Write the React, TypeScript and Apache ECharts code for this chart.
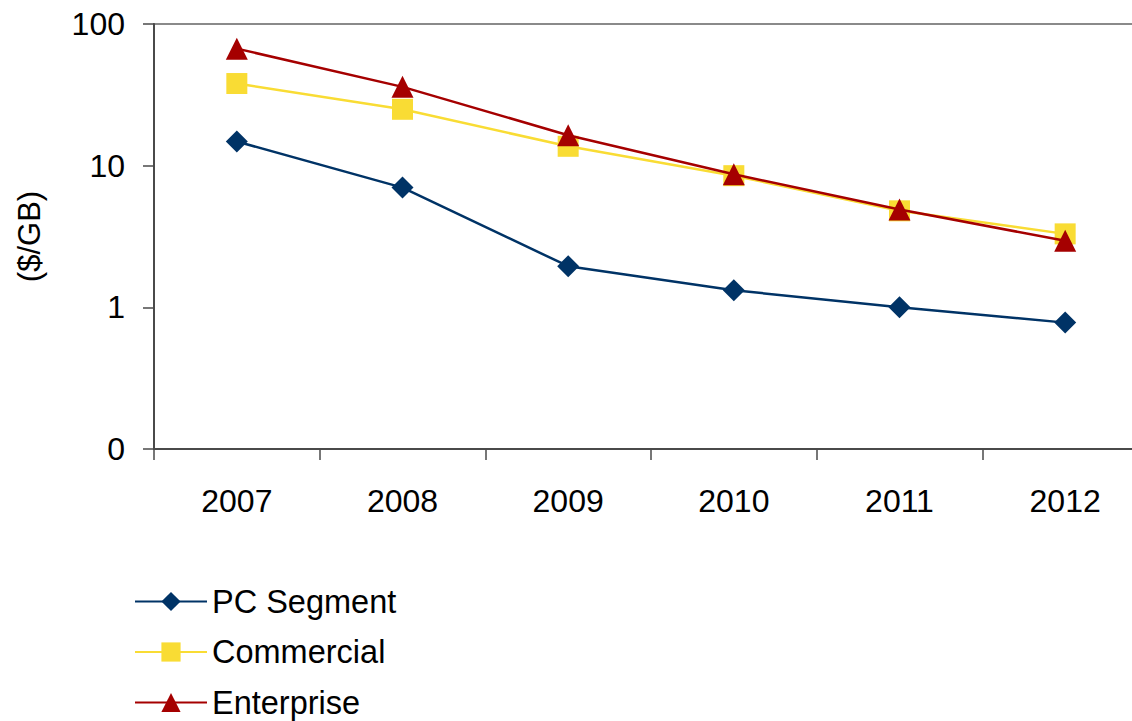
import React, { useEffect, useRef } from "react";
import * as echarts from "echarts";

const years = ["2007", "2008", "2009", "2010", "2011", "2012"];
const pcSegment = [14.8, 7.0, 1.95, 1.32, 1.0, 0.78];
const commercial = [38, 25, 13.7, 8.5, 4.8, 3.3];
const enterprise = [67, 36, 16.4, 8.7, 4.9, 2.95];

const FONT = "'Liberation Sans', Arial, sans-serif";

export default function App() {
  const ref = useRef<HTMLDivElement>(null);
  useEffect(() => {
    if (!ref.current) return;
    const chart = echarts.init(ref.current, null, { renderer: "svg" });
    chart.setOption({
      animation: false,
      backgroundColor: "#ffffff",
      textStyle: { fontFamily: FONT },
      grid: {
        left: 154,
        right: 0,
        top: 24,
        height: 425,
        show: true,
        borderColor: "#8a8a8a",
        borderWidth: 2,
      },
      legend: {
        orient: "vertical",
        left: 134,
        top: 585,
        padding: 0,
        itemWidth: 72,
        itemHeight: 24,
        itemGap: 17.5,
        textStyle: { fontSize: 32.5, color: "#000", fontFamily: FONT },
        data: ["PC Segment", "Commercial", "Enterprise"],
      },
      xAxis: {
        type: "category",
        data: years,
        boundaryGap: true,
        axisLine: { lineStyle: { color: "#4a4a4a", width: 2 } },
        axisTick: { show: true, interval: 0, length: 11, lineStyle: { color: "#4a4a4a", width: 1.5 } },
        axisLabel: { color: "#000", fontSize: 32, margin: 36, fontFamily: FONT },
        splitLine: { show: false },
      },
      yAxis: {
        type: "log",
        logBase: 10,
        min: 0.1,
        max: 100,
        name: "($/GB)",
        nameLocation: "middle",
        nameRotate: 90,
        nameGap: 109,
        nameTextStyle: { fontSize: 31, color: "#000", fontFamily: FONT },
        axisLine: { show: true, lineStyle: { color: "#4a4a4a", width: 2 } },
        axisTick: { show: true, length: 11, lineStyle: { color: "#4a4a4a", width: 1.5 } },
        axisLabel: {
          color: "#000",
          fontSize: 32,
          margin: 29,
          fontFamily: FONT,
          formatter: (v: number) => (v < 0.5 ? "0" : String(Math.round(v))),
        },
        splitLine: { show: false },
      },
      series: [
        {
          name: "PC Segment",
          type: "line",
          data: pcSegment,
          symbol: "diamond",
          symbolSize: 22,
          color: "#003366",
          lineStyle: { color: "#003366", width: 2.5 },
          itemStyle: { color: "#003366" },
          z: 3,
        },
        {
          name: "Commercial",
          type: "line",
          data: commercial,
          symbol: "rect",
          symbolSize: 21,
          color: "#F9DC34",
          lineStyle: { color: "#F9DC34", width: 2.5 },
          itemStyle: { color: "#F9DC34" },
          z: 4,
        },
        {
          name: "Enterprise",
          type: "line",
          data: enterprise,
          symbol: "triangle",
          symbolSize: 22,
          color: "#A50000",
          lineStyle: { color: "#A50000", width: 2.5 },
          itemStyle: { color: "#A50000" },
          z: 5,
        },
      ],
    });
    return () => chart.dispose();
  }, []);
  return (
    <div
      style={{
        position: "absolute",
        left: 0,
        top: 0,
        width: 1132,
        height: 721,
        overflow: "hidden",
        background: "#fff",
      }}
    >
      <div ref={ref} style={{ width: 1148, height: 800 }} />
    </div>
  );
}
